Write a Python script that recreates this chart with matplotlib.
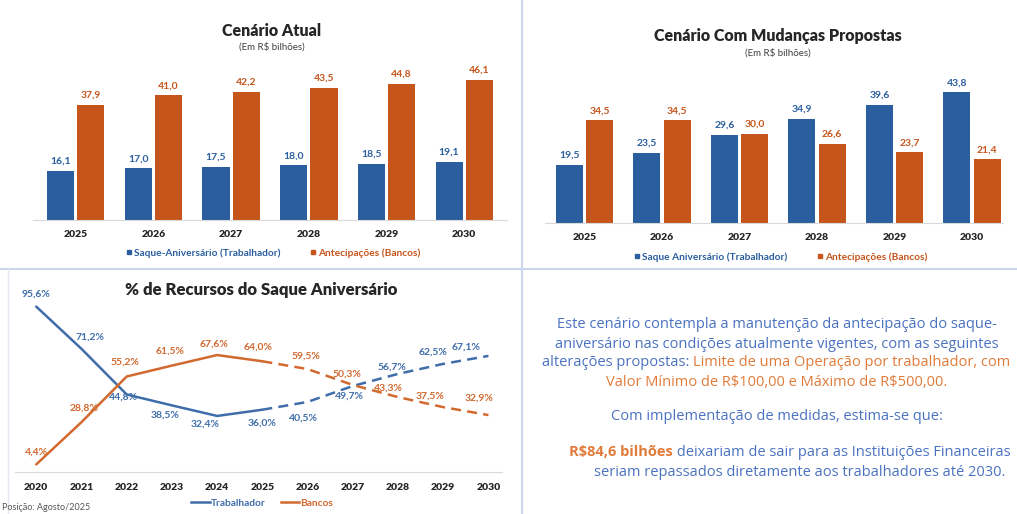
import numpy as np
import matplotlib.pyplot as plt
from matplotlib.lines import Line2D

plt.rcParams['font.family'] = ['Lato', 'DejaVu Sans']
plt.rcParams['text.parse_math'] = False

# ---- data ----
years_bar = ['2025', '2026', '2027', '2028', '2029', '2030']
atual_trab = [16.1, 17.0, 17.5, 18.0, 18.5, 19.1]
atual_banc = [37.9, 41.0, 42.2, 43.5, 44.8, 46.1]
prop_trab = [19.5, 23.5, 29.6, 34.9, 39.6, 43.8]
prop_banc = [34.5, 34.5, 30.0, 26.6, 23.7, 21.4]

years_line = ['2020', '2021', '2022', '2023', '2024', '2025',
              '2026', '2027', '2028', '2029', '2030']
pct_trab = [95.6, 71.2, 44.8, 38.5, 32.4, 36.0, 40.5, 49.7, 56.7, 62.5, 67.1]
pct_banc = [4.4, 28.8, 55.2, 61.5, 67.6, 64.0, 59.5, 50.3, 43.3, 37.5, 32.9]

BLUE = '#2A5E9F'
ORANGE = '#C5551B'
LBLUE = '#3F6DAA'
LORANGE = '#D2692E'
TXT_BLUE = '#4A72C0'
TXT_ORANGE = '#E07B3A'
SEP = '#CAD7EE'

W, H = 1017, 514
fig = plt.figure(figsize=(W / 100, H / 100), dpi=100)


def px_axes(left, top, right, bottom):
    return fig.add_axes([left / W, 1 - bottom / H, (right - left) / W, (bottom - top) / H])


def fmt(v, pct=False):
    s = f'{v:.1f}'.replace('.', ',')
    return s + '%' if pct else s


def bar_panel(box, trab, banc, xlim, title, tx, ty, sy, leg_labels, lx, ly):
    ax = px_axes(*box)
    x = np.arange(len(years_bar))
    w = 0.35
    off = 0.195
    ax.bar(x - off, trab, w, color=BLUE)
    ax.bar(x + off, banc, w, color=ORANGE)
    for xi, v in zip(x, trab):
        ax.annotate(fmt(v), (xi - off, v), xytext=(0, 5), textcoords='offset pixels',
                    ha='center', va='bottom', fontsize=7.5, fontweight='bold', color=BLUE)
    for xi, v in zip(x, banc):
        ax.annotate(fmt(v), (xi + off, v), xytext=(0, 5), textcoords='offset pixels',
                    ha='center', va='bottom', fontsize=7.5, fontweight='bold', color=ORANGE)
    ax.set_xlim(*xlim)
    ax.set_ylim(0, 50)
    ax.set_xticks(x, years_bar)
    ax.tick_params(axis='x', length=0, pad=7, labelsize=7.5, labelcolor='#262626')
    for lab in ax.get_xticklabels():
        lab.set_fontweight('heavy')
    ax.set_yticks([])
    for s in ['top', 'right', 'left']:
        ax.spines[s].set_visible(False)
    ax.spines['bottom'].set_color('#D9D9D9')
    fig.text(tx / W, 1 - ty / H, title, ha='center', va='center', fontsize=11.5,
             fontweight='heavy', color='#262626')
    fig.text(tx / W, 1 - sy / H, '(Em R$ bilhões)', ha='center', va='center',
             fontsize=7, color='#404040')
    handles = [Line2D([], [], marker='s', ls='', color=BLUE, markersize=3.5),
               Line2D([], [], marker='s', ls='', color=ORANGE, markersize=3.5)]
    leg = fig.legend(handles, leg_labels, loc='center', bbox_to_anchor=(lx / W, 1 - ly / H),
                     ncol=2, frameon=False, fontsize=7.3, handletextpad=0.1,
                     columnspacing=2.8, handlelength=0.8)
    for t, c in zip(leg.get_texts(), [BLUE, ORANGE]):
        t.set_color(c)
        t.set_fontweight('bold')
    return ax


bar_panel((33, 68, 507, 220), atual_trab, atual_banc, (-0.55, 5.55),
          'Cenário Atual', 272, 31, 47,
          ['Saque-Aniversário (Trabalhador)', 'Antecipações (Bancos)'], 273, 253)

bar_panel((545, 74, 1003, 223), prop_trab, prop_banc, (-0.51, 5.4),
          'Cenário Com Mudanças Propostas', 778, 36, 53,
          ['Saque Aniversário (Trabalhador)', 'Antecipações (Bancos)'], 780, 257)

# ---- line chart ----
ax = px_axes(15, 299, 502, 472)
x = np.arange(len(years_line))
ax.plot(x[:6], pct_trab[:6], color=LBLUE, lw=1.8, solid_capstyle='round')
ax.plot(x[5:], pct_trab[5:], color=LBLUE, lw=1.8, dashes=(4, 2.5))
ax.plot(x[:6], pct_banc[:6], color=LORANGE, lw=1.8, solid_capstyle='round')
ax.plot(x[5:], pct_banc[5:], color=LORANGE, lw=1.8, dashes=(4, 2.5))

trab_off = [(0, 12), (9, 12), (-3, -3), (-7, -10), (-12, -8), (0, -13),
            (-4, -16), (-3, -10), (-6, 7), (-10, 12), (-22, 9)]
banc_off = [(0, 12), (3, 14), (-2, 14), (-2, 14), (-3, 11), (-4, 14),
            (-2, 13), (-6, 11), (-10, 9), (-13, 11), (-9, 17)]
for xi, v, o in zip(x, pct_trab, trab_off):
    ax.annotate(fmt(v, True), (xi, v), xytext=o, textcoords='offset pixels',
                ha='center', va='center', fontsize=7.5, fontweight='bold', color=LBLUE)
for xi, v, o in zip(x, pct_banc, banc_off):
    ax.annotate(fmt(v, True), (xi, v), xytext=o, textcoords='offset pixels',
                ha='center', va='center', fontsize=7.5, fontweight='bold', color=LORANGE)

ax.set_xlim(-0.47, 10.3)
ax.set_ylim(0, 100)
ax.set_xticks(x, years_line)
ax.tick_params(axis='x', length=0, pad=8, labelsize=7.5, labelcolor='#262626')
for lab in ax.get_xticklabels():
    lab.set_fontweight('heavy')
ax.set_yticks([])
for s in ['top', 'right', 'left']:
    ax.spines[s].set_visible(False)
ax.spines['bottom'].set_color('#D9D9D9')
fig.text(261 / W, 1 - 290 / H, '% de Recursos do Saque Aniversário', ha='center', va='center',
         fontsize=12.1, fontweight='heavy', color='#262626')
handles = [Line2D([], [], color=LBLUE, lw=1.8), Line2D([], [], color=LORANGE, lw=1.8)]
leg = fig.legend(handles, ['Trabalhador', 'Bancos'], loc='center',
                 bbox_to_anchor=(262 / W, 1 - 503 / H), ncol=2, frameon=False,
                 fontsize=7.3, handletextpad=0.1, columnspacing=1.5, handlelength=1.8)
for t, c in zip(leg.get_texts(), [LBLUE, LORANGE]):
    t.set_color(c)
    t.set_fontweight('bold')
fig.text(2 / W, 1 - 508 / H, 'Posição: Agosto/2025', ha='left', va='center',
         fontsize=6.5, color='#555555')

# ---- text panel ----
tfont = ['Open Sans', 'DejaVu Sans']
fs = 10.5
cx = 777 / W
fig.canvas.draw()
r = fig.canvas.get_renderer()


def mixed_line(parts, xc, y):
    # parts: (text, colour, weight); centred as one line at xc
    widths = []
    for s, c, fw in parts:
        t = fig.text(0, 0, s, fontsize=fs, family=tfont, fontweight=fw)
        widths.append(t.get_window_extent(r).width)
        t.remove()
    x0 = xc - sum(widths) / 2
    for (s, c, fw), wd in zip(parts, widths):
        fig.text(x0 / W, 1 - y / H, s, ha='left', va='center', fontsize=fs, color=c,
                 family=tfont, fontweight=fw)
        x0 += wd


fig.text(cx, 1 - 325 / H, 'Este cenário contempla a manutenção da antecipação do saque-',
         ha='center', va='center', fontsize=fs, color=TXT_BLUE, family=tfont)
fig.text(cx, 1 - 344 / H, 'aniversário nas condições atualmente vigentes, com as seguintes',
         ha='center', va='center', fontsize=fs, color=TXT_BLUE, family=tfont)
mixed_line([('alterações propostas: ', TXT_BLUE, 'normal'),
            ('Limite de uma Operação por trabalhador, com', TXT_ORANGE, 'normal')], 776, 363)
fig.text(cx, 1 - 383 / H, 'Valor Mínimo de R$100,00 e Máximo de R$500,00.',
         ha='center', va='center', fontsize=fs, color=TXT_ORANGE, family=tfont)
fig.text(cx, 1 - 416 / H, 'Com implementação de medidas, estima-se que:',
         ha='center', va='center', fontsize=fs, color=TXT_BLUE, family=tfont)
mixed_line([('R$84,6 bilhões', TXT_ORANGE, 'bold'),
            (' deixariam de sair para as Instituições Financeiras', TXT_BLUE, 'normal')],
           790, 452)
fig.text(800 / W, 1 - 472 / H, 'seriam repassados diretamente aos trabalhadores até 2030.',
         ha='center', va='center', fontsize=fs, color=TXT_BLUE, family=tfont)

# ---- panel separators ----
fig.add_artist(Line2D([522 / W, 522 / W], [0, 1], color=SEP, lw=1.5))
fig.add_artist(Line2D([0, 1], [1 - 269 / H, 1 - 269 / H], color=SEP, lw=1.5))
fig.add_artist(Line2D([8 / W, 8 / W], [0, 1 - 269 / H], color='#E3E8F2', lw=1))

fig.savefig('out.png', dpi=100)
